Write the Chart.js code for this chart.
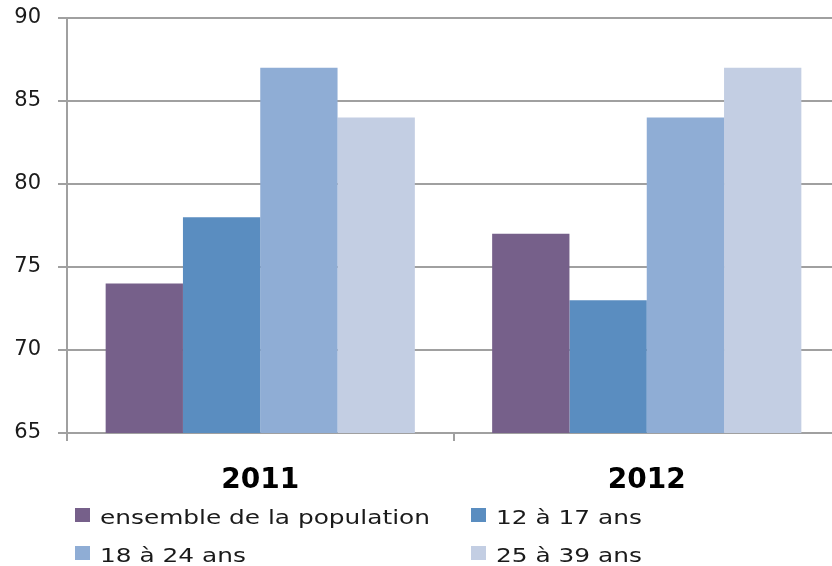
<!DOCTYPE html>
<html><head><meta charset="utf-8">
<script src="https://cdn.jsdelivr.net/npm/chart.js@4"></script>
<style>
html,body{margin:0;padding:0;background:#fff;overflow:hidden;width:832px;height:566px;}
#wrap{position:absolute;left:0;top:0;width:840px;height:566px;}
.leg{position:absolute;font-family:"DejaVu Sans",sans-serif;font-size:20px;color:#1a1a1a;white-space:nowrap;line-height:1;}
.leg span{position:absolute;left:0;top:1px;width:15px;height:14px;}
.leg b{font-weight:normal;position:absolute;left:25px;top:0;display:inline-block;transform:scaleX(1.24);transform-origin:0 50%;}
</style></head><body>
<div id="wrap"><canvas id="c" width="840" height="566"></canvas></div>
<div class="leg" style="left:75px;top:507px"><span style="background:#76608A"></span><b>ensemble de la population</b></div>
<div class="leg" style="left:471px;top:507px"><span style="background:#5A8DC0"></span><b>12 à 17 ans</b></div>
<div class="leg" style="left:75px;top:545px"><span style="background:#8FADD5"></span><b>18 à 24 ans</b></div>
<div class="leg" style="left:471px;top:545px"><span style="background:#C3CEE3"></span><b>25 à 39 ans</b></div>
<script>
const categories = ["2011", "2012"];
const seriesNames = ["ensemble de la population", "12 à 17 ans", "18 à 24 ans", "25 à 39 ans"];
const ensemble = [74, 77];
const ans12_17 = [78, 73];
const ans18_24 = [87, 84];
const ans25_39 = [84, 87];
const yTicks = [65, 70, 75, 80, 85, 90];
const colors = ["#76608A", "#5A8DC0", "#8FADD5", "#C3CEE3"];
const values = [ensemble, ans12_17, ans18_24, ans25_39];

new Chart(document.getElementById('c'), {
  type: 'bar',
  data: {
    labels: categories,
    datasets: seriesNames.map((n, i) => ({
      label: n, data: values[i], backgroundColor: colors[i], borderWidth: 0,
      categoryPercentage: 0.8, barPercentage: 1.0
    }))
  },
  options: {
    responsive: false, animation: false,
    layout: { padding: { top: 18, right: 0, left: 0, bottom: 0 } },
    plugins: { legend: { display: false }, tooltip: { enabled: false } },
    scales: {
      x: {
        grid: { display: true, drawOnChartArea: false, drawTicks: true, tickLength: 8, color: '#A0A0A0', lineWidth: 2 },
        border: { display: true, color: '#A0A0A0', width: 2 },
        ticks: { font: { family: 'DejaVu Sans', size: 28, weight: 'bold' }, color: '#000', padding: 23 },
        afterFit: s => { s.height = 133; s.paddingLeft = 0; s.paddingRight = 0; }
      },
      y: {
        min: 65, max: 90,
        afterBuildTicks: s => { s.ticks = yTicks.map(v => ({ value: v })); },
        grid: { color: '#A0A0A0', lineWidth: 2, tickLength: 9 },
        border: { display: true, color: '#A0A0A0', width: 2 },
        ticks: { font: { family: 'DejaVu Sans', size: 21 }, color: '#1a1a1a', padding: 17 },
        afterFit: s => { s.width = 67; s.paddingTop = 0; s.paddingBottom = 0; }
      }
    }
  }
});
</script>
</body></html>
